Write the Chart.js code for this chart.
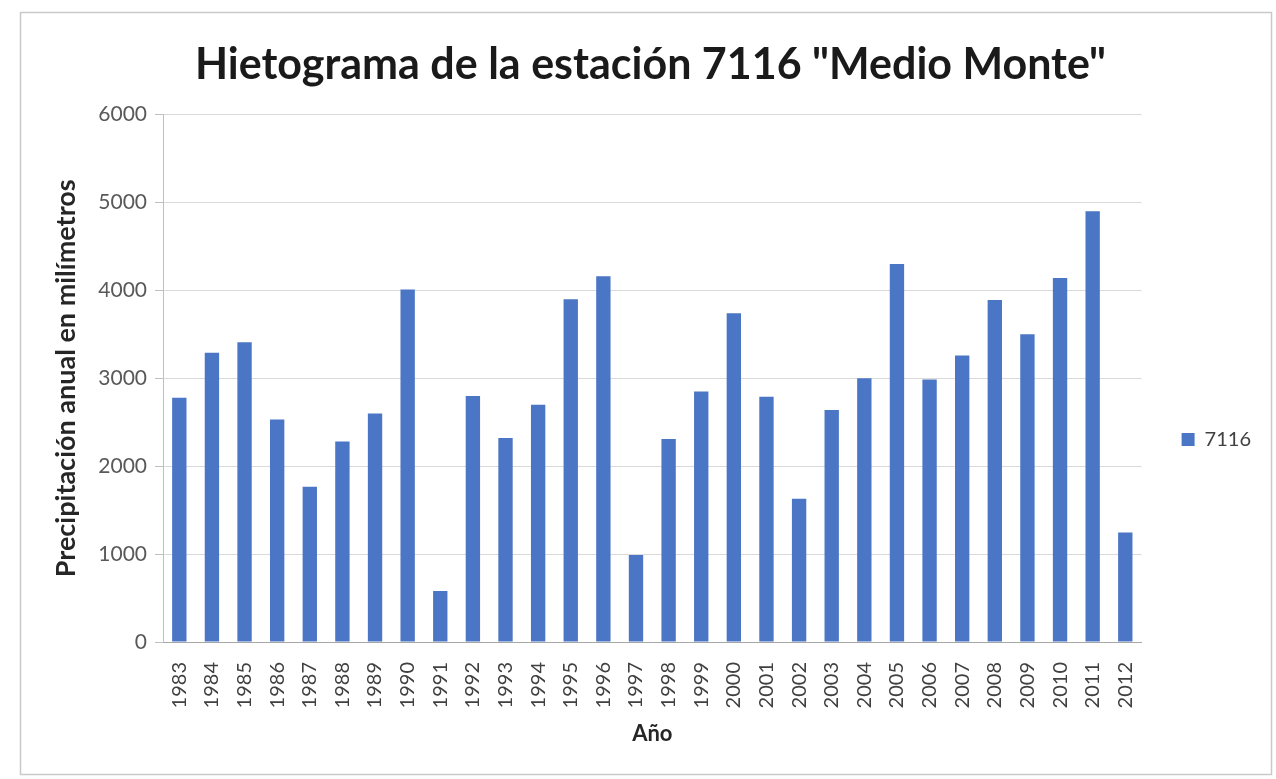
<!DOCTYPE html>
<html>
<head>
<meta charset="utf-8">
<title>Hietograma 7116</title>
<script src="https://cdn.jsdelivr.net/npm/chart.js@4/dist/chart.umd.min.js"></script>
<style>
  html, body { margin: 0; padding: 0; background: #fff; }
  #wrap { position: relative; width: 1276px; height: 779px; }
</style>
</head>
<body>
<div id="wrap"><canvas id="chart" width="1276" height="779"></canvas></div>
<script>
// data (annual rainfall, mm)
const years = ['1983', '1984', '1985', '1986', '1987', '1988', '1989', '1990', '1991', '1992',
               '1993', '1994', '1995', '1996', '1997', '1998', '1999', '2000', '2001', '2002',
               '2003', '2004', '2005', '2006', '2007', '2008', '2009', '2010', '2011', '2012'];
const rainfall = [2780, 3290, 3410, 2530, 1765, 2280, 2600, 4010, 580, 2800,
                  2320, 2700, 3900, 4160, 990, 2310, 2850, 3740, 2790, 1630,
                  2640, 3000, 4300, 2985, 3260, 3890, 3500, 4140, 4900, 1245];
const yTicks = [0, 1000, 2000, 3000, 4000, 5000, 6000];
const seriesName = '7116';

const FONT = 'Lato, "Open Sans", sans-serif';
const BAR_BLUE = '#4a76c5';

// white background + thin frame like the Excel chart area
const chartFrame = {
    id: 'chartFrame',
    beforeDraw(chart) {
        const ctx = chart.ctx;
        ctx.save();
        ctx.fillStyle = '#ffffff';
        ctx.fillRect(0, 0, chart.width, chart.height);
        ctx.strokeStyle = '#c9c9c9';
        ctx.lineWidth = 1.5;
        ctx.strokeRect(20.5, 12.5, 1251, 762);
        ctx.restore();
    }
};

new Chart(document.getElementById('chart'), {
    type: 'bar',
    data: {
        labels: years,
        datasets: [{
            label: seriesName,
            data: rainfall,
            backgroundColor: BAR_BLUE,
            borderWidth: 0,
            categoryPercentage: 1.0,
            barPercentage: 0.44
        }]
    },
    options: {
        responsive: false,
        animation: false,
        layout: {
            padding: { top: 0, left: 40, right: 15, bottom: 20 }
        },
        scales: {
            x: {
                grid: { display: false },
                border: { display: true, color: '#a6a6a6', width: 1 },
                ticks: {
                    minRotation: 90,
                    maxRotation: 90,
                    autoSkip: false,
                    padding: 12,
                    color: '#404040',
                    font: { family: FONT, size: 20 }
                },
                title: {
                    display: true,
                    text: 'Año',
                    color: '#262626',
                    padding: { top: 0, bottom: 12 },
                    font: { family: FONT, size: 22, weight: 'bold' }
                },
                afterFit(scale) { scale.height = 779 - 642 - 20; }
            },
            y: {
                min: 0,
                max: 6000,
                afterBuildTicks(scale) {
                    scale.ticks = yTicks.map(v => ({ value: v }));
                },
                grid: { color: '#d9d9d9', tickLength: 8, tickColor: '#bfbfbf' },
                border: { display: true, color: '#bfbfbf' },
                ticks: {
                    padding: 8,
                    color: '#595959',
                    callback: v => String(v),
                    font: { family: FONT, size: 21 }
                },
                title: {
                    display: true,
                    text: 'Precipitación anual en milímetros',
                    color: '#262626',
                    padding: { top: 10, bottom: 0 },
                    font: { family: FONT, size: 27, weight: 'bold' }
                },
                afterFit(scale) { scale.width = 163 - 40; }
            },
            // empty spacer between the plot and the legend
            gap: {
                position: 'right',
                display: true,
                grid: { display: false },
                border: { display: false },
                ticks: { display: false },
                afterFit(scale) { scale.width = 30; }
            }
        },
        plugins: {
            title: {
                display: true,
                text: 'Hietograma de la estación 7116 "Medio Monte"',
                color: '#1a1a1a',
                padding: { top: 39, bottom: 24 },
                font: { family: FONT, size: 43, weight: 'bold', lineHeight: 1.2 }
            },
            legend: {
                position: 'right',
                title: {
                    display: true,
                    text: '',
                    padding: { top: 0, bottom: 108 },
                    font: { size: 10, lineHeight: 1.2 }
                },
                labels: {
                    boxWidth: 13,
                    boxHeight: 13,
                    padding: 10,
                    color: '#404040',
                    font: { family: FONT, size: 20 }
                }
            },
            tooltip: { enabled: false }
        }
    },
    plugins: [chartFrame]
});
</script>
</body>
</html>
